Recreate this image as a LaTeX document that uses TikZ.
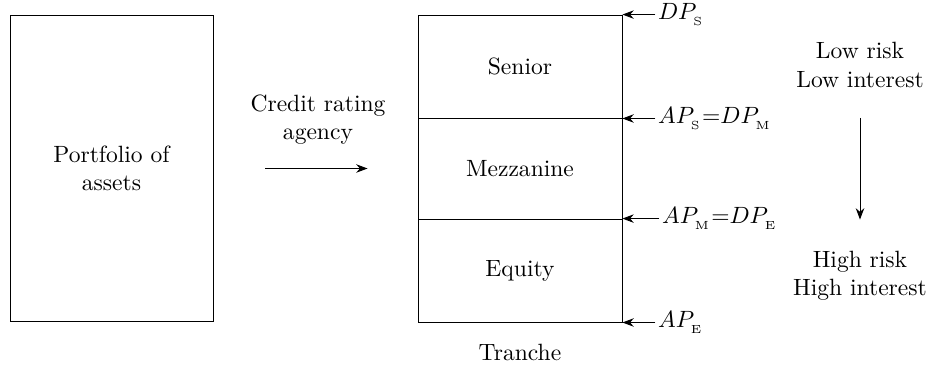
\documentclass[tikz,border=0pt]{standalone}
\usetikzlibrary{arrows.meta, positioning}
\tikzset{
  pool/.style={draw, align=center, minimum width=3.03cm, minimum height=4.58cm, inner sep=0pt},
  layer/.style={draw, align=center, minimum width=3.045cm, inner sep=0pt},
  note/.style={align=center},
  point/.style={inner sep=1pt},
  arrow/.style={-{Stealth}}
}
\begin{document}
\begin{tikzpicture}
\useasboundingbox (0,0) rectangle (13.866,5.448);
% assets and tranches
\node[pool] (port) at (1.664,2.933) {Portfolio of\\assets};
\node[layer, minimum height=1.537cm] (sen) at (7.761,4.455) {Senior};
\node[layer, minimum height=1.507cm] (mez) at (7.761,2.933) {Mezzanine};
\node[layer, minimum height=1.537cm] (eq) at (7.761,1.410) {Equity};
\node (tr) at (7.761,0.194) {Tranche};
\node[note] (cra) at (4.746,3.657) {Credit rating\\agency};
\draw[arrow, shorten <=0.776cm, shorten >=0.746cm] (port) -- (mez);
% attachment and detachment points
\node[point, right=0.49cm of sen.north east] (dps) {$DP_{_\mathrm{S}}$};
\node[point, right=0.49cm of sen.south east] (aps) {$AP_{_\mathrm{S}}{=}DP_{_\mathrm{M}}$};
\node[point, right=0.55cm of eq.north east] (apm) {$AP_{_\mathrm{M}}{=}DP_{_\mathrm{E}}$};
\node[point, right=0.49cm of eq.south east] (ape) {$AP_{_\mathrm{E}}$};
\draw[arrow] (dps.west) -- (sen.north east);
\draw[arrow] (aps.west) -- (sen.south east);
\draw[arrow] (apm.west) -- (eq.north east);
\draw[arrow] (ape.west) -- (eq.south east);
% risk scale
\node[note] (low) at (12.836,4.478) {Low risk\\Low interest};
\node[note] (high) at (12.836,1.328) {High risk\\High interest};
\draw[arrow, shorten <=0.33cm, shorten >=0.35cm] (low) -- (high);
\end{tikzpicture}
\end{document}
